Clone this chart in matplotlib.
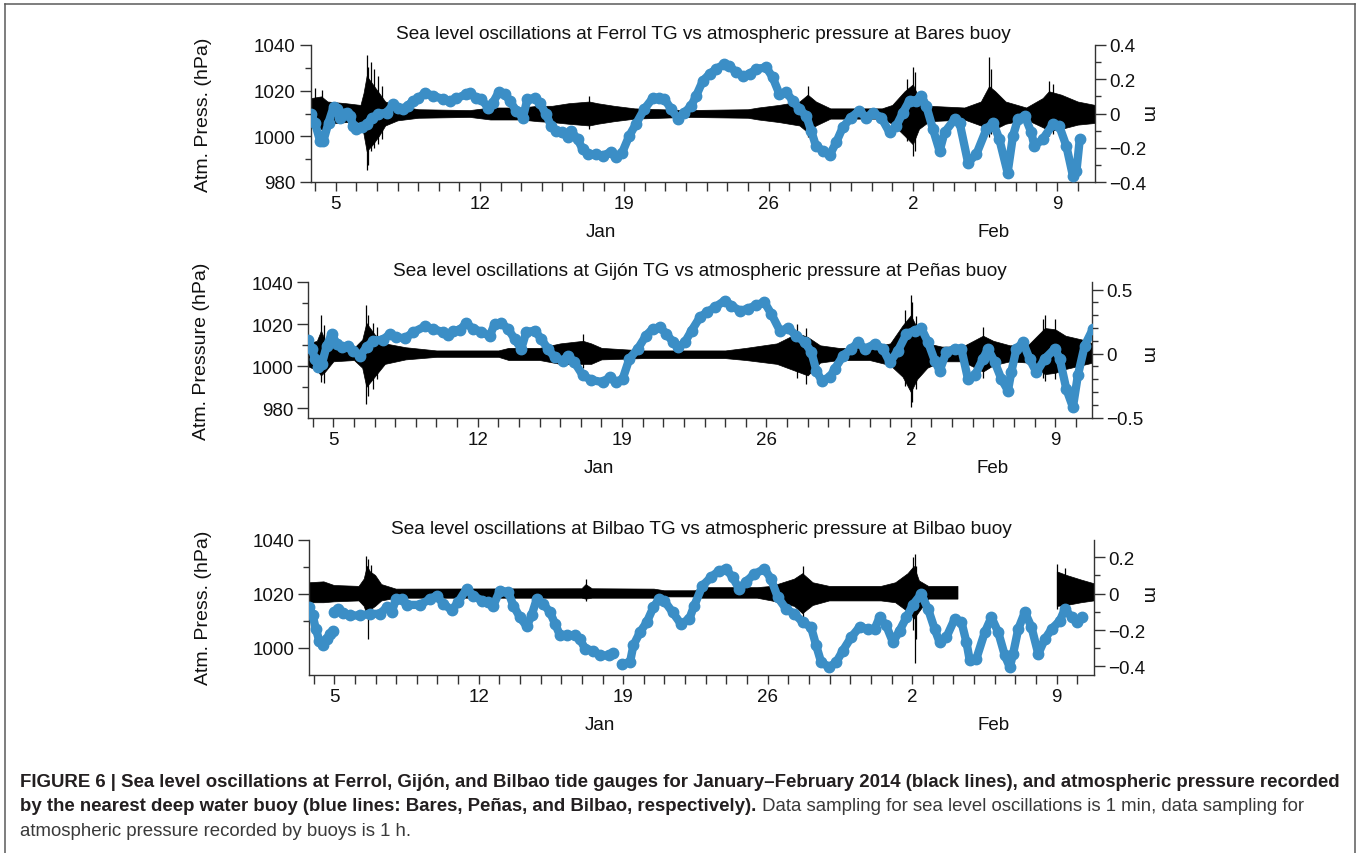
import numpy as np
import matplotlib
matplotlib.use("Agg")
import matplotlib.pyplot as plt
from matplotlib import font_manager
from matplotlib.lines import Line2D
from matplotlib.ticker import FixedLocator, FixedFormatter, NullFormatter

plt.rcParams['font.family'] = ['Liberation Sans', 'DejaVu Sans']
plt.rcParams['axes.unicode_minus'] = True

# ---------------- data (x = day counted from 1 Jan 2014; Feb 2 = 33) ----------------
day_ticks = [5, 12, 19, 26, 33, 40]
day_labels = ['5', '12', '19', '26', '2', '9']
month_pos = [17.86, 36.94]
month_labels = ['Jan', 'Feb']

titles = ['Sea level oscillations at Ferrol TG vs atmospheric pressure at Bares buoy',
          'Sea level oscillations at Gijón TG vs atmospheric pressure at Peñas buoy',
          'Sea level oscillations at Bilbao TG vs atmospheric pressure at Bilbao buoy']
left_labels = ['Atm. Press. (hPa)', 'Atm. Pressure (hPa)', 'Atm. Press. (hPa)']
right_label = 'm'

left_ticks = [[980, 1000, 1020, 1040], [980, 1000, 1020, 1040], [1000, 1020, 1040]]
left_minor = [[990, 1010, 1030], [990, 1010, 1030], [990, 1010, 1030]]
right_ticks = [[-0.4, -0.2, 0, 0.2, 0.4], [-0.5, 0, 0.5], [-0.4, -0.2, 0, 0.2]]
right_tick_labels = [['\u22120.4', '\u22120.2', '0', '0.2', '0.4'],
                     ['\u22120.5', '0', '0.5'],
                     ['\u22120.4', '\u22120.2', '0', '0.2']]
right_minor = [[-0.3, -0.1, 0.1, 0.3],
               [-0.4, -0.3, -0.2, -0.1, 0.1, 0.2, 0.3, 0.4],
               [-0.3, -0.1, 0.1]]

# atmospheric pressure at buoys (day, hPa)
pressure_bares = np.array([
    (3.80, 1009.7), (3.99, 1006.0), (4.24, 998.0), (4.40, 998.0), (4.65, 1006.0),
    (4.90, 1013.0), (5.05, 1012.0), (5.20, 1008.0), (5.37, 1010.0), (5.53, 1010.4),
    (5.70, 1009.0), (5.85, 1004.6), (6.00, 1003.0), (6.26, 1004.0), (6.50, 1005.3),
    (6.74, 1008.0), (7.06, 1009.7), (7.47, 1010.4), (7.80, 1014.0), (8.03, 1012.6),
    (8.27, 1011.9), (8.50, 1013.4), (8.76, 1015.6), (9.00, 1016.6), (9.32, 1019.0),
    (9.73, 1017.8), (10.20, 1016.3), (10.53, 1015.6), (10.85, 1016.6), (11.34, 1018.5),
    (11.50, 1019.0), (11.80, 1017.0), (12.06, 1016.3), (12.39, 1012.6), (12.63, 1014.8),
    (12.90, 1019.2), (13.20, 1018.5), (13.44, 1015.6), (13.76, 1011.2), (14.08, 1008.2),
    (14.30, 1016.3), (14.65, 1016.6), (14.90, 1014.8), (15.20, 1009.7), (15.45, 1004.6),
    (15.70, 1002.4), (16.00, 1001.7), (16.26, 999.5), (16.42, 1002.4), (16.74, 998.7),
    (16.98, 994.3), (17.23, 992.1), (17.63, 992.1), (17.95, 991.4), (18.35, 993.2),
    (18.60, 991.1), (18.90, 992.9), (19.24, 1000.2), (19.56, 1005.3), (19.97, 1011.9),
    (20.37, 1016.6), (20.70, 1017.0), (20.95, 1016.3), (21.28, 1011.9), (21.60, 1007.8),
    (21.92, 1010.4), (22.25, 1013.4), (22.49, 1017.8), (22.81, 1024.3), (23.14, 1027.3),
    (23.46, 1029.5), (23.86, 1031.7), (24.10, 1030.9), (24.43, 1028.0), (24.75, 1026.5),
    (25.08, 1027.3), (25.40, 1029.5), (25.89, 1030.2), (26.20, 1025.8), (26.53, 1018.5),
    (26.86, 1019.2), (27.18, 1015.6), (27.50, 1011.9), (27.83, 1009.0), (28.07, 1002.4),
    (28.30, 995.8), (28.64, 993.6), (28.96, 991.7), (29.28, 997.3), (29.60, 1003.9),
    (30.00, 1008.2), (30.40, 1011.2), (30.74, 1008.2), (31.06, 1010.4), (31.47, 1008.2),
    (31.87, 1001.7), (32.20, 1004.6), (32.52, 1010.4), (32.84, 1015.6), (33.16, 1015.6),
    (33.41, 1017.8), (33.65, 1013.4), (33.98, 1003.1), (34.30, 993.6), (34.54, 1001.7),
    (35.03, 1007.5), (35.27, 1006.0), (35.68, 988.5), (36.08, 992.1), (36.57, 1003.1),
    (36.90, 1006.0), (37.20, 998.7), (37.60, 984.1), (37.86, 1000.2), (38.10, 1007.5),
    (38.43, 1009.0), (38.75, 1001.7), (38.90, 995.8), (39.30, 998.7), (39.80, 1005.3),
    (40.10, 1004.6), (40.45, 995.8), (40.77, 982.6), (40.94, 984.8), (41.10, 998.7),
])

pressure_penas = np.array([
    (3.79, 1012.7), (3.95, 1008.3), (4.11, 1003.5), (4.27, 999.5), (4.44, 1001.1),
    (4.68, 1009.8), (4.92, 1015.4), (5.16, 1010.6), (5.40, 1009.0), (5.73, 1009.8),
    (5.97, 1007.5), (6.29, 1005.1), (6.61, 1009.0), (6.94, 1012.2), (7.42, 1012.7),
    (7.74, 1015.4), (8.06, 1013.8), (8.47, 1013.3), (8.87, 1016.2), (9.44, 1019.0),
    (9.84, 1017.8), (10.32, 1016.2), (10.56, 1014.9), (10.80, 1017.0), (11.13, 1017.3),
    (11.45, 1020.6), (11.77, 1017.8), (12.18, 1016.5), (12.58, 1014.3), (12.82, 1020.2),
    (13.15, 1020.6), (13.47, 1017.8), (13.79, 1013.0), (14.11, 1008.3), (14.35, 1016.2),
    (14.76, 1017.0), (15.08, 1013.0), (15.40, 1008.3), (15.73, 1004.3), (16.13, 1002.7),
    (16.37, 1005.1), (16.69, 1001.9), (17.10, 995.6), (17.50, 993.5), (18.06, 992.4),
    (18.39, 994.8), (18.71, 992.4), (19.03, 994.0), (19.35, 1003.5), (19.76, 1008.3),
    (20.16, 1014.6), (20.48, 1017.8), (20.83, 1018.6), (21.15, 1015.4), (21.48, 1011.4),
    (21.72, 1009.0), (22.04, 1011.4), (22.37, 1017.0), (22.77, 1023.3), (23.10, 1025.7),
    (23.50, 1028.1), (23.98, 1031.3), (24.30, 1028.9), (24.70, 1026.5), (25.10, 1027.3),
    (25.50, 1029.2), (25.90, 1030.5), (26.24, 1024.9), (26.65, 1017.0), (27.05, 1018.1),
    (27.45, 1014.6), (27.86, 1011.4), (28.18, 1006.7), (28.42, 997.9), (28.67, 993.2),
    (29.07, 994.8), (29.31, 998.7), (29.72, 1005.1), (30.12, 1008.3), (30.44, 1011.4),
    (30.77, 1008.3), (31.25, 1010.6), (31.65, 1008.3), (31.98, 1001.9), (32.38, 1007.5),
    (32.79, 1015.4), (33.19, 1017.0), (33.51, 1018.1), (33.84, 1011.4), (34.16, 1002.7),
    (34.40, 997.9), (34.72, 1006.7), (35.13, 1008.3), (35.45, 1008.3), (35.77, 994.0),
    (36.10, 995.6), (36.50, 1003.5), (36.74, 1008.3), (37.07, 1001.9), (37.39, 994.0),
    (37.71, 988.4), (37.87, 997.1), (38.12, 1008.3), (38.44, 1011.4), (38.76, 1003.5),
    (39.09, 997.1), (39.49, 1003.5), (39.98, 1008.3), (40.22, 1003.5), (40.54, 989.2),
    (40.86, 980.5), (41.10, 995.6), (41.43, 1009.8), (41.83, 1017.8),
])

pressure_bilbao = np.array([
    (3.79, 1015.0), (3.95, 1012.0), (4.11, 1007.0), (4.27, 1002.7), (4.43, 1000.9),
    (4.63, 1003.3), (4.79, 1005.2), (4.95, 1006.4), (4.96, np.nan),
    (4.97, 1013.2), (5.19, 1014.4), (5.44, 1012.8), (5.76, 1012.0), (6.24, 1012.0),
    (6.73, 1012.6), (7.21, 1012.6), (7.54, 1015.0), (7.78, 1013.2), (7.99, 1018.1),
    (8.26, 1018.1), (8.50, 1015.9), (9.15, 1015.9), (9.64, 1018.1), (9.96, 1019.3),
    (10.28, 1016.3), (10.69, 1014.0), (11.00, 1016.9), (11.41, 1021.8), (11.74, 1019.3),
    (12.14, 1017.5), (12.46, 1016.9), (12.70, 1015.6), (13.03, 1021.2), (13.43, 1020.6),
    (13.68, 1015.6), (14.00, 1011.3), (14.32, 1008.0), (14.56, 1012.0), (14.81, 1018.1),
    (15.13, 1016.3), (15.45, 1013.2), (15.70, 1008.9), (15.94, 1004.6), (16.26, 1004.8),
    (16.66, 1004.6), (16.90, 1003.3), (17.15, 999.7), (17.55, 999.0), (17.88, 997.2),
    (18.30, 997.2), (18.52, 998.2), (18.70, np.nan),
    (18.93, 994.1), (19.33, 994.7), (19.49, 1000.9), (19.81, 1005.8), (20.14, 1009.5),
    (20.46, 1015.0), (20.74, 1018.1), (20.98, 1017.5), (21.39, 1013.2), (21.79, 1008.9),
    (22.20, 1010.7), (22.44, 1015.6), (22.84, 1023.0), (23.25, 1026.1), (23.65, 1028.6),
    (23.98, 1029.2), (24.30, 1026.1), (24.62, 1021.8), (24.95, 1024.5), (25.35, 1027.3),
    (25.84, 1029.2), (26.16, 1025.5), (26.49, 1018.7), (26.89, 1014.4), (27.29, 1012.6),
    (27.70, 1009.5), (28.10, 1007.7), (28.35, 1000.9), (28.59, 994.7), (28.99, 992.9),
    (29.32, 994.7), (29.64, 999.0), (30.05, 1004.0), (30.45, 1007.7), (30.85, 1007.0),
    (31.18, 1007.0), (31.42, 1011.3), (31.74, 1008.3), (32.07, 1002.1), (32.39, 1006.4),
    (32.72, 1011.3), (33.03, 1015.9), (33.44, 1019.9), (33.77, 1014.4), (34.09, 1007.0),
    (34.33, 1002.1), (34.66, 1004.0), (35.06, 1010.7), (35.39, 1009.5), (35.63, 1002.1),
    (35.79, 995.4), (36.11, 996.0), (36.52, 1005.8), (36.84, 1011.3), (37.17, 1005.8),
    (37.49, 997.2), (37.73, 992.9), (37.89, 997.8), (38.14, 1007.0), (38.46, 1013.2),
    (38.78, 1007.7), (39.11, 997.8), (39.43, 1003.3), (39.76, 1007.0), (40.16, 1010.1),
    (40.40, 1014.4), (40.73, 1011.3), (40.97, 1009.5), (41.21, 1011.3),
])

# sea level oscillations at tide gauges: dense core envelope (day, upper m, lower m)
sealevel_ferrol = np.array([
    (3.80, 0.09, -0.08), (4.30, 0.10, -0.09), (4.60, 0.07, -0.06), (5.50, 0.06, -0.05),
    (6.20, 0.05, -0.05), (6.35, 0.12, -0.12), (6.50, 0.22, -0.22), (6.80, 0.17, -0.18),
    (7.10, 0.12, -0.13), (7.40, 0.07, -0.07), (8.00, 0.045, -0.04), (9.00, 0.025, -0.025),
    (11.50, 0.02, -0.02), (12.50, 0.035, -0.035), (14.00, 0.035, -0.035), (14.80, 0.045, -0.045),
    (15.50, 0.045, -0.05), (16.30, 0.06, -0.06), (17.30, 0.07, -0.07), (17.70, 0.06, -0.06),
    (18.50, 0.045, -0.045), (19.50, 0.03, -0.03), (22.00, 0.02, -0.02), (25.00, 0.025, -0.025),
    (25.50, 0.035, -0.035), (26.50, 0.05, -0.05), (27.50, 0.07, -0.07), (27.90, 0.11, -0.11),
    (28.30, 0.07, -0.07), (29.00, 0.03, -0.03), (31.50, 0.03, -0.03), (32.00, 0.05, -0.06),
    (32.60, 0.13, -0.13), (33.00, 0.17, -0.18), (33.30, 0.09, -0.09), (33.80, 0.045, -0.045),
    (35.50, 0.035, -0.035), (36.30, 0.07, -0.07), (36.70, 0.16, -0.11), (37.00, 0.13, -0.09),
    (37.50, 0.07, -0.06), (38.50, 0.035, -0.035), (39.30, 0.09, -0.08), (39.60, 0.13, -0.10),
    (40.20, 0.11, -0.09), (41.00, 0.07, -0.065), (41.84, 0.05, -0.055),
])
# largest individual excursions (day, top m, bottom m)
spikes_ferrol = np.array([
    (4.00, 0.15, -0.12), (4.35, 0.14, -0.11), (6.50, 0.34, -0.33), (6.58, 0.27, -0.30),
    (6.70, 0.30, -0.22), (6.85, 0.26, -0.20), (7.05, 0.22, -0.18), (7.25, 0.16, -0.15),
    (17.30, 0.10, -0.09), (27.90, 0.16, -0.14), (32.70, 0.20, -0.16), (33.00, 0.27, -0.25),
    (33.10, 0.24, -0.22), (36.70, 0.33, -0.14), (36.80, 0.26, -0.12), (39.60, 0.19, -0.13),
    (39.80, 0.17, -0.12),
])

sealevel_gijon = np.array([
    (3.79, 0.08, -0.10), (4.20, 0.10, -0.13), (4.40, 0.18, -0.17), (4.60, 0.10, -0.14),
    (5.00, 0.06, -0.06), (6.00, 0.045, -0.05), (6.40, 0.11, -0.11), (6.60, 0.24, -0.26),
    (7.00, 0.15, -0.18), (7.50, 0.08, -0.08), (8.50, 0.05, -0.045), (10.00, 0.025, -0.025),
    (13.00, 0.025, -0.025), (13.50, 0.045, -0.05), (15.00, 0.045, -0.05), (16.00, 0.08, -0.08),
    (17.10, 0.10, -0.08), (17.50, 0.08, -0.08), (18.00, 0.045, -0.045), (20.00, 0.025, -0.035),
    (24.00, 0.025, -0.035), (25.00, 0.045, -0.05), (26.50, 0.08, -0.08), (27.50, 0.16, -0.14),
    (28.00, 0.13, -0.17), (28.60, 0.065, -0.07), (29.50, 0.045, -0.05), (31.00, 0.045, -0.05),
    (32.00, 0.08, -0.09), (32.60, 0.22, -0.18), (33.00, 0.30, -0.30), (33.30, 0.20, -0.20),
    (33.80, 0.08, -0.11), (34.50, 0.055, -0.06), (35.50, 0.055, -0.06), (36.50, 0.14, -0.14),
    (37.00, 0.10, -0.09), (37.80, 0.065, -0.06), (38.70, 0.07, -0.07), (39.50, 0.20, -0.16),
    (40.00, 0.19, -0.15), (40.50, 0.14, -0.12), (41.30, 0.11, -0.09), (41.82, 0.08, -0.07),
])
spikes_gijon = np.array([
    (4.40, 0.30, -0.22), (4.55, 0.22, -0.23), (6.60, 0.38, -0.39), (6.70, 0.30, -0.33),
    (6.90, 0.24, -0.28), (7.10, 0.21, -0.20), (17.10, 0.15, -0.11), (27.50, 0.23, -0.19),
    (27.90, 0.20, -0.24), (32.70, 0.34, -0.25), (33.00, 0.46, -0.42), (33.05, 0.40, -0.38),
    (33.25, 0.29, -0.28), (36.50, 0.21, -0.19), (39.40, 0.27, -0.19), (39.50, 0.30, -0.21),
    (40.00, 0.27, -0.20),
])

sealevel_bilbao = np.array([
    (3.79, 0.06, -0.05), (4.50, 0.065, -0.05), (5.00, 0.045, -0.045), (6.20, 0.04, -0.04),
    (6.45, 0.08, -0.07), (6.60, 0.15, -0.12), (6.75, 0.12, -0.09), (7.00, 0.10, -0.07),
    (7.30, 0.05, -0.04), (8.00, 0.025, -0.025), (17.00, 0.027, -0.025), (17.20, 0.05, -0.03),
    (17.50, 0.027, -0.025), (20.50, 0.025, -0.025), (21.00, 0.016, -0.018), (22.50, 0.016, -0.018),
    (22.80, 0.033, -0.025), (25.50, 0.033, -0.025), (26.20, 0.04, -0.04), (27.30, 0.08, -0.07),
    (27.70, 0.11, -0.11), (28.20, 0.06, -0.065), (29.00, 0.04, -0.04), (31.50, 0.04, -0.04),
    (32.20, 0.06, -0.05), (32.80, 0.11, -0.10), (33.10, 0.15, -0.14), (33.35, 0.07, -0.10),
    (33.80, 0.04, -0.03), (35.22, 0.04, -0.03), (35.23, np.nan, np.nan),
    (40.02, np.nan, np.nan), (40.03, 0.12, -0.07), (40.50, 0.10, -0.065), (41.20, 0.075, -0.05),
    (41.81, 0.055, -0.04),
])
spikes_bilbao = np.array([
    (6.55, 0.21, -0.12), (6.62, 0.19, -0.25), (6.80, 0.16, -0.12), (17.20, 0.08, -0.04),
    (27.70, 0.154, -0.143), (33.05, 0.20, -0.20), (33.12, 0.22, -0.38), (33.20, 0.15, -0.25),
    (40.03, 0.163, -0.087), (40.40, 0.14, -0.08),
])

pressures = [pressure_bares, pressure_penas, pressure_bilbao]
sealevels = [sealevel_ferrol, sealevel_gijon, sealevel_bilbao]
spikes = [spikes_ferrol, spikes_gijon, spikes_bilbao]

caption_bold_1 = ('FIGURE 6 | Sea level oscillations at Ferrol, Gijón, and Bilbao tide gauges for '
                  'January\u2013February 2014 (black lines), and atmospheric pressure recorded')
caption_bold_2 = 'by the nearest deep water buoy (blue lines: Bares, Peñas, and Bilbao, respectively).'
caption_reg_2 = ' Data sampling for sea level oscillations is 1 min, data sampling for'
caption_reg_3 = 'atmospheric pressure recorded by buoys is 1 h.'

# ---------------- layout / style ----------------
W, H = 1359, 854
BLUE = '#3b8ec6'
SPINE = '#333333'
axes_px = [(311.0, 1095.0, 46.0, 183.0), (308.3, 1092.3, 283.3, 419.3), (309.3, 1094.0, 540.7, 675.7)]
xlims = [(3.80, 41.84), (3.785, 41.80), (3.79, 41.81)]
left_lims = [(980, 1040), (975.2, 1040), (990.1, 1040)]
right_lims = [(-0.4, 0.4), (-0.505, 0.557), (-0.446, 0.297)]
label_x_px = [203, 201.5, 204]

fig = plt.figure(figsize=(W / 100, H / 100), dpi=100)
fig.patch.set_facecolor('white')

TICK_FS = 13.5
for i in range(3):
    l, r, t, b = axes_px[i]
    ax = fig.add_axes([l / W, 1 - b / H, (r - l) / W, (b - t) / H])
    axr = ax.twinx()
    ax.set_zorder(2)
    axr.set_zorder(1)
    ax.patch.set_visible(False)

    sl = sealevels[i]
    axr.fill_between(sl[:, 0], sl[:, 2], sl[:, 1], color='black', lw=0.5, edgecolor='black')
    sp = spikes[i]
    axr.vlines(sp[:, 0], sp[:, 2], sp[:, 1], color='black', lw=0.9)
    pr = pressures[i]
    ax.plot(pr[:, 0], pr[:, 1], color=BLUE, lw=6, marker='o', ms=7.5, mfc=BLUE, mec=BLUE,
            solid_joinstyle='round', solid_capstyle='round', zorder=3)

    ax.set_xlim(*xlims[i])
    ax.set_ylim(*left_lims[i])
    axr.set_ylim(*right_lims[i])

    for s in ['top', 'right']:
        ax.spines[s].set_visible(False)
    for s in ['top', 'left', 'bottom']:
        axr.spines[s].set_visible(False)
    for s in ['left', 'bottom']:
        ax.spines[s].set_color(SPINE)
        ax.spines[s].set_linewidth(1.0)
    axr.spines['right'].set_color(SPINE)
    axr.spines['right'].set_linewidth(1.0)

    ax.xaxis.set_major_locator(FixedLocator(day_ticks))
    ax.xaxis.set_major_formatter(FixedFormatter(day_labels))
    minor_days = [d for d in range(4, 42) if d not in day_ticks]
    ax.xaxis.set_minor_locator(FixedLocator(minor_days))
    ax.xaxis.set_minor_formatter(NullFormatter())

    ax.yaxis.set_major_locator(FixedLocator(left_ticks[i]))
    ax.yaxis.set_major_formatter(FixedFormatter([str(v) for v in left_ticks[i]]))
    ax.yaxis.set_minor_locator(FixedLocator(left_minor[i]))
    axr.yaxis.set_major_locator(FixedLocator(right_ticks[i]))
    axr.yaxis.set_major_formatter(FixedFormatter(right_tick_labels[i]))
    axr.yaxis.set_minor_locator(FixedLocator(right_minor[i]))

    ax.tick_params(axis='x', which='both', direction='out', length=6.5, width=1.0,
                   color=SPINE, labelsize=TICK_FS, pad=3, labelcolor='#111111')
    ax.tick_params(axis='y', which='major', direction='out', length=8, width=1.0,
                   color=SPINE, labelsize=TICK_FS, pad=3, labelcolor='#111111')
    ax.tick_params(axis='y', which='minor', direction='out', length=4.5, width=1.0, color=SPINE)
    axr.tick_params(axis='y', which='major', direction='out', length=8, width=1.0,
                    color=SPINE, labelsize=TICK_FS, pad=2, labelcolor='#111111')
    axr.tick_params(axis='y', which='minor', direction='out', length=4.5, width=1.0, color=SPINE)

    ax.set_title(titles[i], fontsize=13.7, pad=5.0, color='#111111')

    axw = r - l
    ax.text((label_x_px[i] - l) / axw, 0.5, left_labels[i], rotation=90, ha='center', va='center',
            fontsize=14, transform=ax.transAxes, color='#111111')
    lo, hi = right_lims[i]
    axr.text((1147 - l) / axw, (0 - lo) / (hi - lo), right_label, rotation=270, ha='center',
             va='center', fontsize=14, transform=axr.transAxes, color='#111111')

    for mp, ml in zip(month_pos, month_labels):
        ax.annotate(ml, xy=(mp, 0), xycoords=('data', 'axes fraction'), xytext=(0, -35.5),
                    textcoords='offset points', ha='center', va='center', fontsize=TICK_FS,
                    color='#111111', annotation_clip=False)

# ---------------- frame ----------------
bc = '#5a5a5a'
fig.add_artist(Line2D([4.5 / W, 4.5 / W], [0, 1 - 4.5 / H], color=bc, lw=1.1, transform=fig.transFigure))
fig.add_artist(Line2D([4.5 / W, 1354.5 / W], [1 - 4.5 / H, 1 - 4.5 / H], color=bc, lw=1.1, transform=fig.transFigure))
fig.add_artist(Line2D([1354.5 / W, 1354.5 / W], [0, 1 - 4.5 / H], color=bc, lw=1.1, transform=fig.transFigure))

# ---------------- caption ----------------
def has_font(name):
    try:
        font_manager.findfont(font_manager.FontProperties(family=name), fallback_to_default=False)
        return True
    except Exception:
        return False

cap_family = ['Liberation Sans Narrow', 'Liberation Sans', 'DejaVu Sans'] if has_font('Liberation Sans Narrow') \
    else ['Liberation Sans', 'DejaVu Sans']

x0 = 20.5 / W
y1, y2, y3 = 1 - 787 / H, 1 - 811.5 / H, 1 - 836 / H
c1 = fig.text(x0, y1, caption_bold_1, fontsize=12, fontweight='bold', family=cap_family,
              color='#231f20', ha='left', va='baseline')
fig.canvas.draw()
rend = fig.canvas.get_renderer()
w1 = c1.get_window_extent(rend).width
cap_fs = 12 * (1316.0 / w1)
c1.set_fontsize(cap_fs)
c2 = fig.text(x0, y2, caption_bold_2, fontsize=cap_fs, fontweight='bold', family=cap_family,
              color='#231f20', ha='left', va='baseline')
fig.canvas.draw()
w2 = c2.get_window_extent(rend).width
fig.text(x0 + w2 / W, y2, caption_reg_2, fontsize=cap_fs, family=cap_family,
         color='#3a3a3a', ha='left', va='baseline')
fig.text(x0, y3, caption_reg_3, fontsize=cap_fs, family=cap_family,
         color='#3a3a3a', ha='left', va='baseline')

fig.savefig('out.png', dpi=100, facecolor='white')
